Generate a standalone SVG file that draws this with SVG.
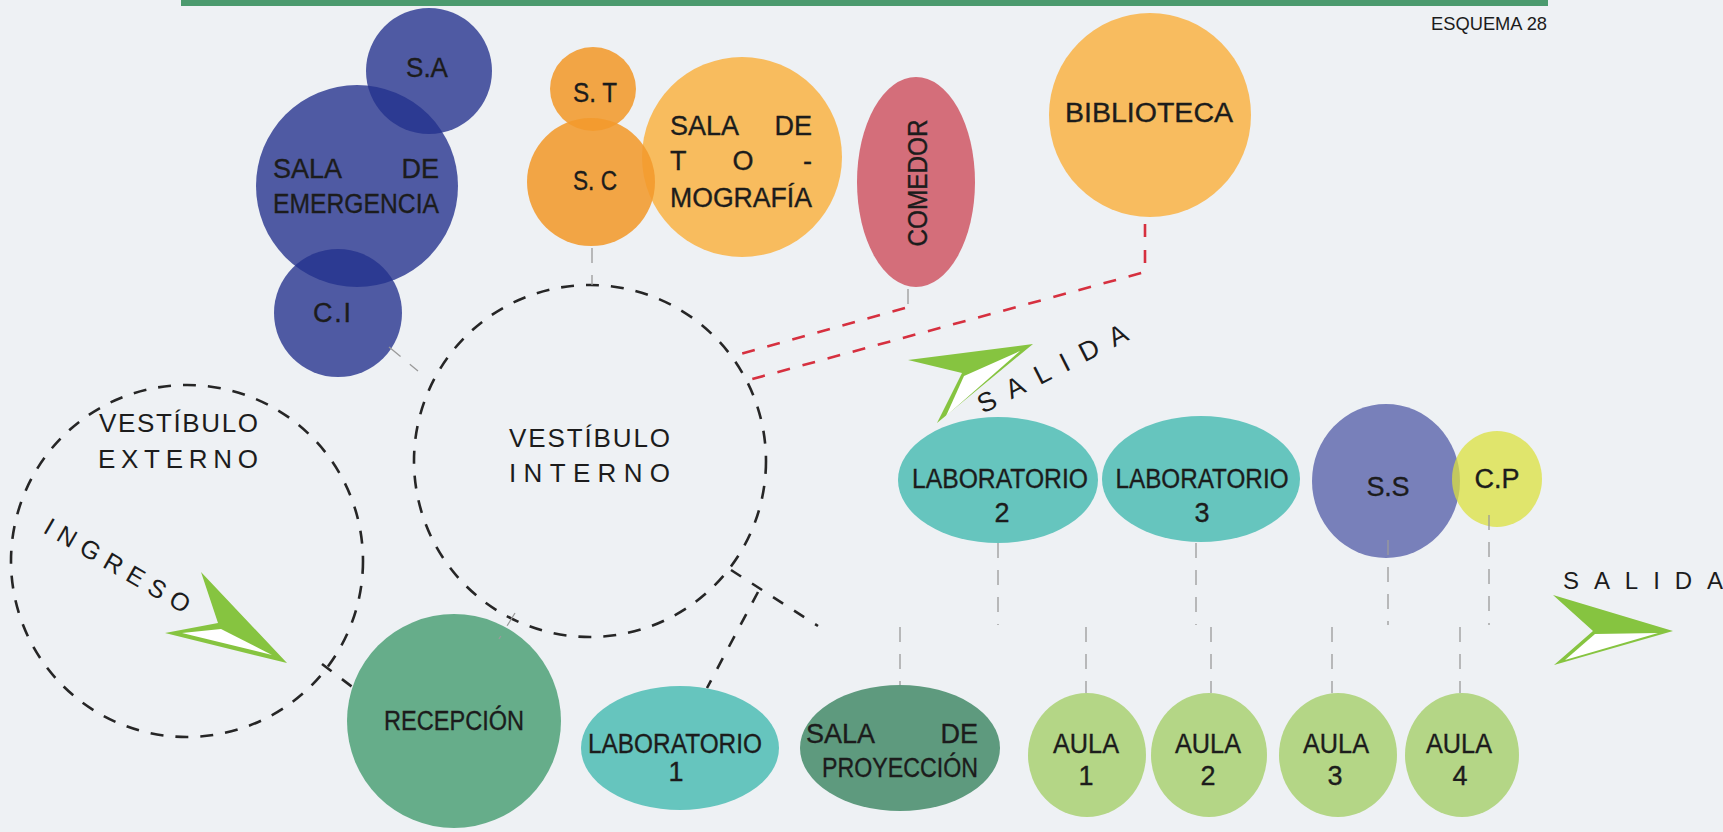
<svg xmlns="http://www.w3.org/2000/svg" width="1723" height="832" viewBox="0 0 1723 832">
<style>
.t{font-family:"Liberation Sans Narrow","Liberation Sans",Arial,sans-serif;font-size:27px;fill:#1c1c1c;stroke:#1c1c1c;stroke-width:.35}
.sp{font-family:"Liberation Sans",Arial,sans-serif;fill:#1c1c1c}
.vd{fill:none;stroke:#262626;stroke-width:2.6;stroke-dasharray:13 12}
.bd{fill:none;stroke:#262626;stroke-width:2.6;stroke-dasharray:12 13}
.gd{fill:none;stroke:#9a9a9a;stroke-width:1.3;stroke-dasharray:15 12}
.rd{fill:none;stroke:#d6303f;stroke-width:2.6;stroke-dasharray:13 13}
.navy{fill:#24328d;fill-opacity:.79}
.org{fill:#f39a2c;fill-opacity:.88}
.lab{fill:#66c5be}
.aula{fill:#b4d686}
.grn{fill:#86c440}
</style>
<rect width="1723" height="832" fill="#eef1f4"/>
<rect x="181" y="0" width="1367" height="6" fill="#4b9a6e"/>
<text class="sp" x="1431" y="30" font-size="19" textLength="116" lengthAdjust="spacingAndGlyphs">ESQUEMA 28</text>

<g id="sala-emergencia">
<circle class="navy" cx="357" cy="186" r="101"/>
<text class="t" x="273" y="178">SALA</text>
<text class="t" x="439" y="178" text-anchor="end">DE</text>
<text class="t" x="273" y="213" textLength="166" lengthAdjust="spacingAndGlyphs">EMERGENCIA</text>
</g>
<g id="sa">
<circle class="navy" cx="429" cy="71" r="63"/>
<text class="t" x="427" y="77" text-anchor="middle" textLength="42" lengthAdjust="spacingAndGlyphs">S.A</text>
</g>
<g id="ci">
<circle class="navy" cx="338" cy="313" r="64"/>
<text class="t" x="313" y="322" textLength="38" lengthAdjust="spacing">C.I</text>
</g>

<g id="sala-tomografia">
<circle cx="742" cy="157" r="100" fill="#f8bc5e"/>
<text class="t" x="670" y="135">SALA</text>
<text class="t" x="812" y="135" text-anchor="end">DE</text>
<text class="t" x="670" y="170">T</text>
<text class="t" x="743" y="170" text-anchor="middle">O</text>
<text class="t" x="812" y="170" text-anchor="end">-</text>
<text class="t" x="670" y="207" textLength="142" lengthAdjust="spacingAndGlyphs">MOGRAFÍA</text>
</g>
<g id="st">
<ellipse class="org" cx="593" cy="89" rx="43" ry="42"/>
<text class="t" x="595" y="102" text-anchor="middle" textLength="44" lengthAdjust="spacingAndGlyphs">S. T</text>
</g>
<g id="sc">
<circle class="org" cx="591" cy="182" r="64"/>
<text class="t" x="595" y="190" text-anchor="middle" textLength="44" lengthAdjust="spacingAndGlyphs">S. C</text>
</g>

<g id="comedor">
<ellipse cx="916" cy="182" rx="59" ry="105" fill="#d46e7a"/>
<text class="t" transform="translate(927,183) rotate(-90)" x="0" y="0" text-anchor="middle" textLength="127" lengthAdjust="spacingAndGlyphs">COMEDOR</text>
</g>

<g id="biblioteca">
<ellipse cx="1150" cy="115" rx="101" ry="102" fill="#f8bc5f"/>
<text class="t" x="1149" y="122" text-anchor="middle" textLength="168" lengthAdjust="spacingAndGlyphs">BIBLIOTECA</text>
</g>

<g id="vestibulo-interno">
<circle class="vd" cx="590" cy="461" r="176"/>
<text class="sp" x="509" y="447" font-size="26" textLength="161" lengthAdjust="spacing">VESTÍBULO</text>
<text class="sp" x="509" y="482" font-size="26" textLength="161" lengthAdjust="spacing">INTERNO</text>
</g>

<g id="vestibulo-externo">
<circle class="vd" cx="187" cy="561" r="176"/>
<text class="sp" x="99" y="432" font-size="26" textLength="159" lengthAdjust="spacing">VESTÍBULO</text>
<text class="sp" x="98" y="468" font-size="26" textLength="160" lengthAdjust="spacing">EXTERNO</text>
</g>

<g id="recepcion">
<circle cx="454" cy="721" r="107" fill="#66ad8a"/>
<text class="t" x="454" y="730" text-anchor="middle" textLength="140" lengthAdjust="spacingAndGlyphs">RECEPCIÓN</text>
</g>

<g id="laboratorio-1">
<ellipse class="lab" cx="680" cy="748" rx="99" ry="62"/>
<text class="t" x="675" y="753" text-anchor="middle" font-size="26" textLength="174" lengthAdjust="spacingAndGlyphs">LABORATORIO</text>
<text class="t" x="676" y="781" text-anchor="middle" font-size="24">1</text>
</g>

<g id="sala-proyeccion">
<ellipse cx="900" cy="748" rx="100" ry="63" fill="#5e9a7e"/>
<text class="t" x="806" y="743">SALA</text>
<text class="t" x="978" y="743" text-anchor="end">DE</text>
<text class="t" x="822" y="777" textLength="156" lengthAdjust="spacingAndGlyphs">PROYECCIÓN</text>
</g>

<g id="laboratorio-2">
<ellipse class="lab" cx="998" cy="480" rx="100" ry="63"/>
<text class="t" x="1000" y="488" text-anchor="middle" textLength="176" lengthAdjust="spacingAndGlyphs">LABORATORIO</text>
<text class="t" x="1002" y="522" text-anchor="middle">2</text>
</g>
<g id="laboratorio-3">
<ellipse class="lab" cx="1201" cy="479" rx="99" ry="63"/>
<text class="t" x="1202" y="488" text-anchor="middle" textLength="173" lengthAdjust="spacingAndGlyphs">LABORATORIO</text>
<text class="t" x="1202" y="522" text-anchor="middle">3</text>
</g>

<g id="ss">
<ellipse cx="1386" cy="481" rx="74" ry="77" fill="#7880ba"/>
<text class="t" x="1388" y="496" text-anchor="middle" font-size="24" textLength="43" lengthAdjust="spacing">S.S</text>
</g>
<g id="cp">
<ellipse cx="1497" cy="479" rx="45" ry="48" fill="#dbe03f" fill-opacity=".75"/>
<text class="t" x="1497" y="488" text-anchor="middle" textLength="45" lengthAdjust="spacingAndGlyphs">C.P</text>
</g>

<g id="aula-1">
<ellipse class="aula" cx="1087" cy="755" rx="59" ry="62"/>
<text class="t" x="1086" y="753" text-anchor="middle" textLength="66" lengthAdjust="spacingAndGlyphs">AULA</text>
<text class="t" x="1086" y="785" text-anchor="middle">1</text>
</g>
<g id="aula-2">
<ellipse class="aula" cx="1209" cy="755" rx="58" ry="62"/>
<text class="t" x="1208" y="753" text-anchor="middle" textLength="66" lengthAdjust="spacingAndGlyphs">AULA</text>
<text class="t" x="1208" y="785" text-anchor="middle">2</text>
</g>
<g id="aula-3">
<ellipse class="aula" cx="1338" cy="755" rx="59" ry="62"/>
<text class="t" x="1336" y="753" text-anchor="middle" textLength="66" lengthAdjust="spacingAndGlyphs">AULA</text>
<text class="t" x="1335" y="785" text-anchor="middle">3</text>
</g>
<g id="aula-4">
<ellipse class="aula" cx="1462" cy="755" rx="57" ry="62"/>
<text class="t" x="1459" y="753" text-anchor="middle" textLength="66" lengthAdjust="spacingAndGlyphs">AULA</text>
<text class="t" x="1460" y="785" text-anchor="middle">4</text>
</g>

<g id="connectors">
<line class="gd" x1="389" y1="347" x2="418" y2="371"/>
<line class="gd" x1="592" y1="248" x2="592" y2="285"/>
<line class="gd" x1="515" y1="613" x2="499" y2="639"/>
<line class="gd" x1="908" y1="289" x2="908" y2="307"/>
<polyline class="rd" points="905,308 733,356"/>
<polyline class="rd" points="1145,224 1145,272 745,381"/>
<line class="bd" x1="322" y1="664" x2="355" y2="689"/>
<line class="bd" x1="731" y1="570" x2="818" y2="626"/>
<line class="bd" x1="758" y1="592" x2="707" y2="688"/>
<line class="gd" x1="998" y1="543" x2="998" y2="625"/>
<line class="gd" x1="1196" y1="543" x2="1196" y2="625"/>
<line class="gd" x1="1388" y1="540" x2="1388" y2="625"/>
<line class="gd" x1="1489" y1="515" x2="1489" y2="625"/>
<line class="gd" x1="900" y1="627" x2="900" y2="685"/>
<line class="gd" x1="1086" y1="627" x2="1086" y2="693"/>
<line class="gd" x1="1211" y1="627" x2="1211" y2="693"/>
<line class="gd" x1="1332" y1="627" x2="1332" y2="693"/>
<line class="gd" x1="1460" y1="627" x2="1460" y2="693"/>
</g>

<g id="ingreso">
<polygon class="grn" points="201,572 287,663 165,633 218,623"/>
<polygon fill="#fff" points="221,629 272,655 182,633"/>
<text class="sp" transform="translate(42,532) rotate(30)" font-size="25" textLength="164" lengthAdjust="spacing">INGRESO</text>
</g>
<g id="salida-1">
<polygon class="grn" points="908,360 1033,344 937,423 962,373"/>
<polygon fill="#fff" points="964,376 1020,351 946,416"/>
<text class="sp" transform="translate(983,414) rotate(-26.9)" font-size="27" textLength="165" lengthAdjust="spacing">SALIDA</text>
</g>
<g id="salida-2">
<polygon class="grn" points="1553,595 1673,631 1554,665 1593,631"/>
<polygon fill="#fff" points="1595,634 1658,633 1565,660"/>
<text class="sp" x="1563" y="589" font-size="24" textLength="160" lengthAdjust="spacing">SALIDA</text>
</g>
</svg>
